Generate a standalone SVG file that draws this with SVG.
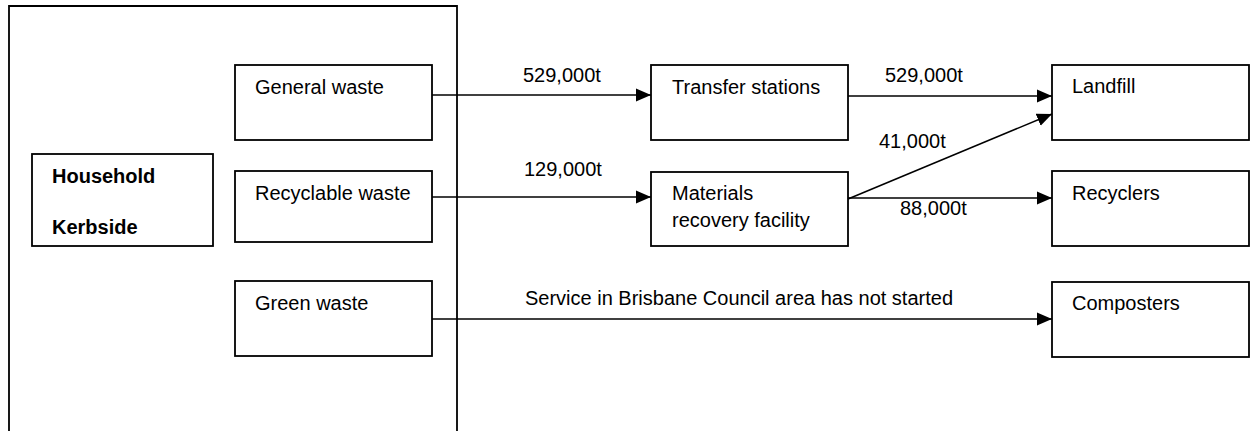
<svg xmlns="http://www.w3.org/2000/svg" width="1251" height="431" viewBox="0 0 1251 431">
  <style>
    .box { fill: #ffffff; stroke: #000000; stroke-width: 1.8; }
    .frame { fill: none; stroke: #000000; stroke-width: 1.8; }
    .lbl { font-family: "Liberation Sans", Arial, sans-serif; font-size: 20px; fill: #000000; }
    .bold { font-weight: bold; }
    .edge { fill: none; stroke: #000000; stroke-width: 1.6; marker-end: url(#arrow); }
  </style>
  <defs>
    <marker id="arrow" markerUnits="userSpaceOnUse" markerWidth="16" markerHeight="14" refX="15" refY="7" orient="auto">
      <path d="M0,0.5 L15,7 L0,13.5 Z" fill="#000000"/>
    </marker>
  </defs>
  <rect width="1251" height="431" fill="#ffffff"/>

  <!-- household kerbside frame (open at the bottom edge) -->
  <g id="frame">
    <path class="frame" d="M9,440 V6 H457 V440"/>
  </g>

  <g id="household">
    <rect class="box" x="32" y="154" width="181" height="92"/>
    <text class="lbl bold" x="52" y="183">Household</text>
    <text class="lbl bold" x="52" y="234">Kerbside</text>
  </g>

  <g id="general-waste">
    <rect class="box" x="235" y="65" width="197" height="75"/>
    <text class="lbl" x="255" y="94">General waste</text>
  </g>
  <g id="recyclable-waste">
    <rect class="box" x="235" y="171" width="197" height="71"/>
    <text class="lbl" x="255" y="200">Recyclable waste</text>
  </g>
  <g id="green-waste">
    <rect class="box" x="235" y="281" width="197" height="75"/>
    <text class="lbl" x="255" y="310">Green waste</text>
  </g>

  <g id="transfer-stations">
    <rect class="box" x="651" y="65" width="197" height="75"/>
    <text class="lbl" x="672" y="94">Transfer stations</text>
  </g>
  <g id="mrf">
    <rect class="box" x="651" y="172" width="197" height="74"/>
    <text class="lbl" x="672" y="200">Materials</text>
    <text class="lbl" x="672" y="227">recovery facility</text>
  </g>

  <g id="landfill">
    <rect class="box" x="1052" y="65" width="197" height="75"/>
    <text class="lbl" x="1072" y="93">Landfill</text>
  </g>
  <g id="recyclers">
    <rect class="box" x="1052" y="171" width="197" height="75"/>
    <text class="lbl" x="1072" y="200">Recyclers</text>
  </g>
  <g id="composters">
    <rect class="box" x="1052" y="282" width="197" height="75"/>
    <text class="lbl" x="1072" y="310">Composters</text>
  </g>

  <g id="connectors">
    <line class="edge" x1="432" y1="95" x2="651" y2="95"/>
    <line class="edge" x1="432" y1="197" x2="651" y2="197"/>
    <line class="edge" x1="848" y1="96" x2="1052" y2="96"/>
    <line class="edge" x1="848" y1="199" x2="1052" y2="114"/>
    <line class="edge" x1="848" y1="198" x2="1052" y2="198"/>
    <line class="edge" x1="432" y1="319" x2="1052" y2="319"/>
    <text class="lbl" x="523" y="82">529,000t</text>
    <text class="lbl" x="524" y="176">129,000t</text>
    <text class="lbl" x="885" y="82">529,000t</text>
    <text class="lbl" x="879" y="148">41,000t</text>
    <text class="lbl" x="900" y="215">88,000t</text>
    <text class="lbl" x="525" y="305">Service in Brisbane Council area has not started</text>
  </g>
</svg>
